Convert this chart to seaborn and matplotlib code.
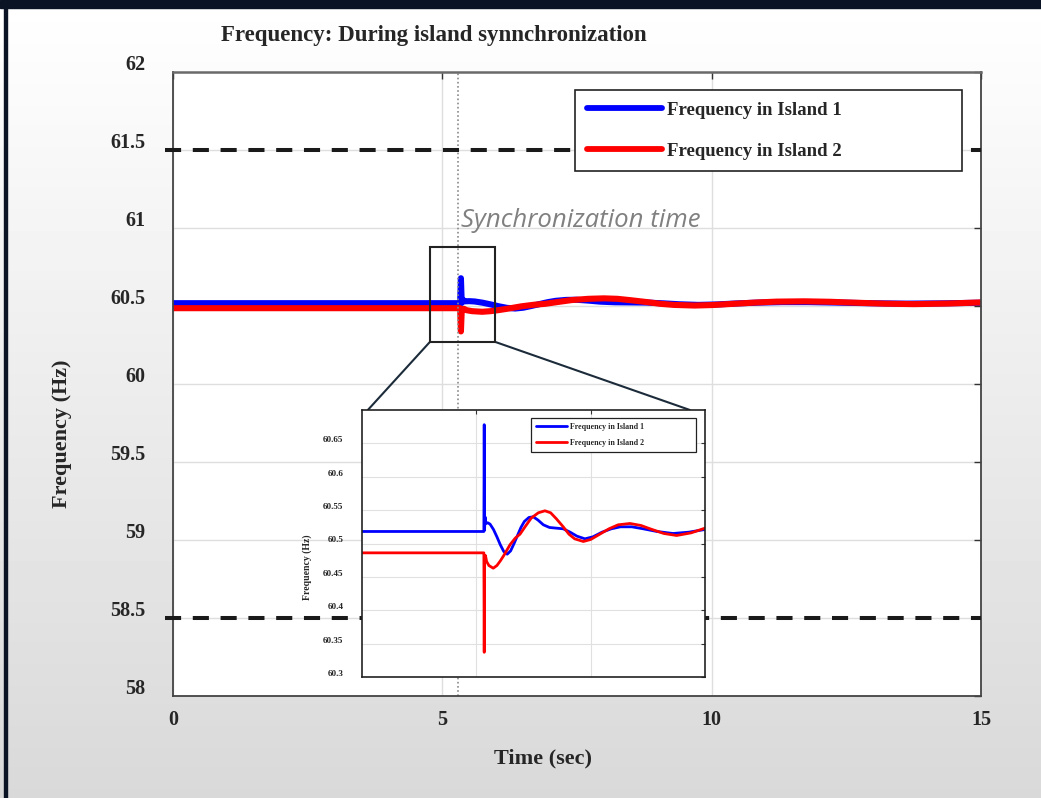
import numpy as np
import pandas as pd
import matplotlib
matplotlib.use("Agg")
import matplotlib.pyplot as plt
import seaborn as sns
from matplotlib.patches import Rectangle, ConnectionPatch
from matplotlib.lines import Line2D
from matplotlib.transforms import ScaledTranslation

# ---------------- data ----------------
series_names = ["Frequency in Island 1", "Frequency in Island 2"]
series_colors = ["#0000ff", "#ff0000"]

island1_time = [0.0, 5.33, 5.345, 5.36, 5.38, 5.42, 5.50, 5.60, 5.75, 5.90, 6.05, 6.20,
                6.35, 6.50, 6.65, 6.80, 6.95, 7.10, 7.30, 7.49, 7.70, 7.93, 8.20, 8.50,
                8.80, 9.10, 9.40, 9.75, 10.10, 10.50, 10.90, 11.30, 11.80, 12.30, 12.90,
                13.60, 14.30, 15.0]
island1_freq = [60.518, 60.518, 60.678, 60.520, 60.540, 60.530, 60.531, 60.529, 60.521,
                60.510, 60.498, 60.488, 60.484, 60.489, 60.500, 60.512, 60.524, 60.533,
                60.539, 60.540, 60.535, 60.528, 60.524, 60.523, 60.522, 60.517, 60.511,
                60.507, 60.510, 60.517, 60.522, 60.525, 60.525, 60.522, 60.518, 60.515,
                60.517, 60.521]

island2_time = [0.0, 5.33, 5.345, 5.36, 5.40, 5.45, 5.55, 5.74, 5.90, 6.05, 6.20, 6.47,
                6.70, 6.91, 7.15, 7.40, 7.71, 8.00, 8.25, 8.50, 8.80, 9.05, 9.30, 9.68,
                10.00, 10.40, 10.80, 11.20, 11.72, 12.20, 12.60, 13.20, 13.76, 14.40, 15.0]
island2_freq = [60.486, 60.486, 60.337, 60.470, 60.482, 60.473, 60.467, 60.463, 60.467,
                60.474, 60.482, 60.498, 60.508, 60.514, 60.526, 60.538, 60.546, 60.549,
                60.546, 60.537, 60.525, 60.514, 60.507, 60.503, 60.506, 60.514, 60.522,
                60.528, 60.530, 60.527, 60.522, 60.515, 60.512, 60.516, 60.523]

x_ticks = [0, 5, 10, 15]
y_ticks = [58, 58.5, 59, 59.5, 60, 60.5, 61, 61.5, 62]
y_tick_labels = ["58", "58.5", "59", "59.5", "60", "60.5", "61", "61.5", "62"]
inset_x_ticks = [5, 10]
inset_y_ticks = [60.3, 60.35, 60.4, 60.45, 60.5, 60.55, 60.6, 60.65]
inset_y_tick_labels = ["60.3", "60.35", "60.4", "60.45", "60.5", "60.55", "60.6", "60.65"]
limit_levels = [61.5, 58.5]
sync_time = 5.285
zoom_t0, zoom_t1 = 4.77, 5.98
zoom_f0, zoom_f1 = 60.27, 60.88

title_text = "Frequency: During island synnchronization"
x_label = "Time (sec)"
y_label = "Frequency (Hz)"
sync_label = "Synchronization time"

# ---------------- style ----------------
sns.set_style("white")
plt.rcParams["font.family"] = ["Liberation Serif", "DejaVu Serif"]
plt.rcParams["font.weight"] = "bold"

df = pd.concat([
    pd.DataFrame({"t": island1_time, "f": island1_freq, "series": series_names[0]}),
    pd.DataFrame({"t": island2_time, "f": island2_freq, "series": series_names[1]}),
], ignore_index=True)
palette = dict(zip(series_names, series_colors))

fig = plt.figure(figsize=(10.41, 7.98), dpi=100)

# background gradient
bg = fig.add_axes([0, 0, 1, 1], zorder=-10)
grad = np.linspace(1.0, 0.85, 256)[:, None]
bg.imshow(grad, cmap="gray", vmin=0, vmax=1, aspect="auto", extent=[0, 1, 0, 1])
bg.axis("off")
fig.add_artist(Rectangle((0, 1 - 8 / 798), 1, 8 / 798, transform=fig.transFigure,
                         color="#0b1424", zorder=10))
fig.add_artist(Rectangle((4 / 1041, 0), 3 / 1041, 1, transform=fig.transFigure,
                         color="#0b1424", zorder=10))

# ---------------- main axes ----------------
ax = fig.add_axes([173 / 1041, 1 - 696 / 798, 808 / 1041, 624 / 798])
ax.set_facecolor("white")
sns.lineplot(data=df, x="t", y="f", hue="series", palette=palette, estimator=None,
             sort=False, linewidth=4.4, legend=False, ax=ax)
ax.set_xlim(0, 15)
ax.set_ylim(58, 62)
ax.set_xticks(x_ticks)
ax.set_xticklabels([str(v) for v in x_ticks])
ax.set_yticks(y_ticks)
ax.set_yticklabels(y_tick_labels)
ax.grid(True, color="#dedede", linewidth=1.0)
ax.tick_params(direction="in", length=5, width=1, color="#333333", top=True, right=True,
               labelsize=14.5)
ax.tick_params(axis="y", pad=20)
ax.tick_params(axis="x", pad=10)
for sp in ax.spines.values():
    sp.set_color("#444444")
    sp.set_linewidth(1.3)
ax.spines["top"].set_color("#6a6a6a")
ax.spines["top"].set_linewidth(1.8)

shift = ScaledTranslation(0, 0.10, fig.dpi_scale_trans)
for lbl in ax.get_yticklabels():
    lbl.set_transform(lbl.get_transform() + shift)

for lvl in limit_levels:
    ax.axhline(lvl, xmin=-0.01, xmax=1.0, color="#1a1a1a", linewidth=2.9,
               dashes=(4, 2.9), clip_on=False, zorder=3)

ax.axvline(sync_time, color="#8a8a8a", linestyle=(0, (1, 1.5)), linewidth=1.2, zorder=2)
ax.text(sync_time + 0.07, 61.05, sync_label, fontfamily="Open Sans", fontstyle="italic",
        fontweight="normal", color="#808080", fontsize=18.5, va="center", ha="left")

ax.add_patch(Rectangle((zoom_t0, zoom_f0), zoom_t1 - zoom_t0, zoom_f1 - zoom_f0,
                       fill=False, edgecolor="#222222", linewidth=1.5, zorder=6))

ax.set_xlabel(x_label, fontsize=16, fontweight="bold", va="center")
ax.xaxis.set_label_coords(0.458, -0.0994)
ax.set_ylabel(y_label, fontsize=16, fontweight="bold", va="center")
ax.yaxis.set_label_coords(-0.137, 0.421)

handles = [Line2D([], [], color=c, linewidth=4.2) for c in series_colors]
leg_h = 0.133
leg = ax.legend(handles, series_names, loc="upper left",
                bbox_to_anchor=(0.4975, 0.971 - leg_h, 0.479, leg_h), mode="expand",
                borderaxespad=0, frameon=True, fancybox=False, framealpha=1,
                edgecolor="#222222", fontsize=13.5, handlelength=4.0,
                handletextpad=0.27, labelspacing=1.27, borderpad=0.62)
leg.get_frame().set_linewidth(1.2)
for t in leg.get_texts():
    t.set_fontweight("bold")

fig.text(434 / 1041, 1 - 35 / 798, title_text, ha="center", va="center",
         fontsize=16.5, fontweight="bold")

# ---------------- inset ----------------
axin = ax.inset_axes([(362 - 173) / 808, 1 - (677 - 72) / 624, 343 / 808, 267 / 624])
axin.set_facecolor("white")
sns.lineplot(data=df, x="t", y="f", hue="series", palette=palette, estimator=None,
             sort=False, linewidth=2.0, legend=False, ax=axin)
axin.set_xlim(0, 15)
axin.set_ylim(60.3, 60.7)
axin.set_xticks(inset_x_ticks)
axin.set_xticklabels([])
axin.set_yticks(inset_y_ticks)
axin.set_yticklabels(inset_y_tick_labels)
axin.set_xlabel("")
axin.grid(True, color="#e0e0e0", linewidth=0.8)
axin.tick_params(direction="in", length=3, width=0.8, color="#333333", top=True,
                 right=True, labelsize=6.6)
axin.tick_params(axis="y", pad=13.5)
for sp in axin.spines.values():
    sp.set_color("#222222")
    sp.set_linewidth(1.2)
shift_in = ScaledTranslation(0, 0.04, fig.dpi_scale_trans)
for lbl in axin.get_yticklabels():
    lbl.set_transform(lbl.get_transform() + shift_in)
axin.set_ylabel(y_label, fontsize=7, fontweight="bold", va="center")
axin.yaxis.set_label_coords(-0.16, 0.41)

handles_in = [Line2D([], [], color=c, linewidth=2.0) for c in series_colors]
leg_in_h = 0.135
leg_in = axin.legend(handles_in, series_names, loc="upper left",
                     bbox_to_anchor=(0.492, 0.970 - leg_in_h, 0.482, leg_in_h),
                     mode="expand", borderaxespad=0, frameon=True, fancybox=False,
                     framealpha=1, edgecolor="#222222", fontsize=5.7, handlelength=3.9,
                     handletextpad=0.35, labelspacing=0.97, borderpad=0.65)
leg_in.get_frame().set_linewidth(0.9)
for t in leg_in.get_texts():
    t.set_fontweight("bold")

# connector lines from the zoom box to the inset
for (xa, ya), (xb, yb) in [((zoom_t0, zoom_f0), (0.017, 1.0)),
                           ((zoom_t1, zoom_f0), (0.956, 1.0))]:
    con = ConnectionPatch(xyA=(xa, ya), coordsA=ax.transData, xyB=(xb, yb),
                          coordsB=axin.transAxes, color="#1c2b3a", linewidth=1.5)
    ax.add_artist(con)

fig.savefig("out.png", dpi=100)
